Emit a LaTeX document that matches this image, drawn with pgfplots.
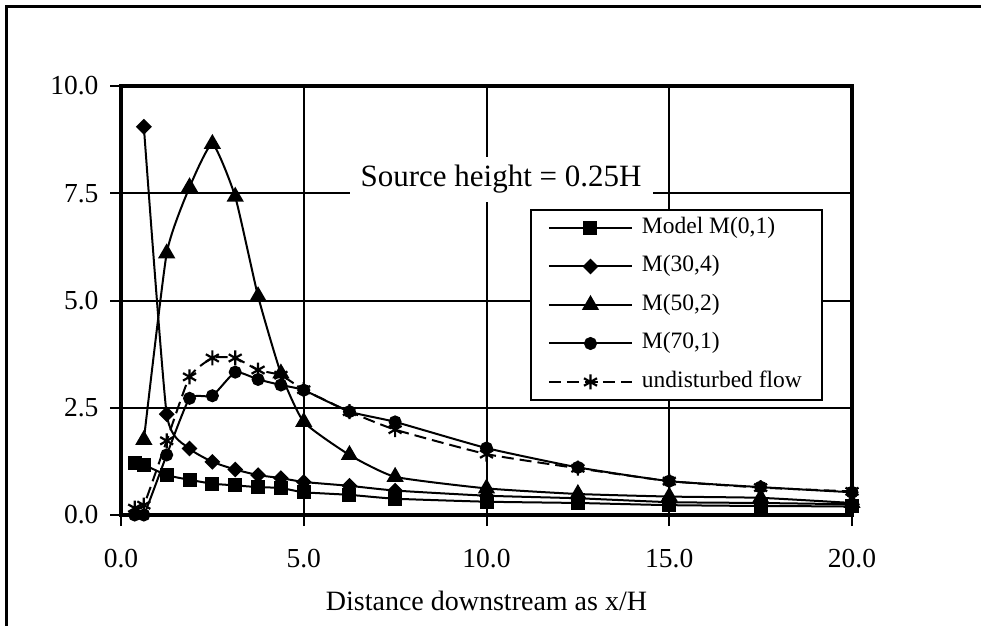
\documentclass[border=0pt]{standalone}
\usepackage{fontspec}
\setmainfont{Liberation Serif}
\usepackage{pgfplots}
\pgfplotsset{compat=1.18}
\begin{document}
\begin{tikzpicture}[x=1pt,y=1pt]
\useasboundingbox (0,0) rectangle (981,625);
\draw[line width=2.7pt] (6.7,-5) -- (6.7,618.3) -- (990,618.3);
\begin{axis}[
  at={(121pt,110pt)}, anchor=south west,
  scale only axis, width=731pt, height=429pt,
  xmin=0, xmax=20, ymin=0, ymax=10,
  xtick={0,5,10,15,20}, xticklabels={0.0,5.0,10.0,15.0,20.0},
  ytick={0,2.5,5,7.5,10}, yticklabels={0.0,2.5,5.0,7.5,10.0},
  tick pos=left, tick align=outside, major tick length=11pt,
  major tick style={black, line width=2pt},
  grid=major, major grid style={black, line width=2pt},
  axis line style={line width=4.5pt},
  ticklabel style={font=\fontsize{27.5}{30}\selectfont},
  xticklabel style={yshift=-20pt},
  yticklabel style={xshift=-8pt},
  xlabel={Distance downstream as x/H},
  xlabel style={font=\fontsize{28}{30}\selectfont, at={(axis description cs:0.5,0)}, anchor=center, yshift=-86pt},
  clip=false,
  legend cell align=left,
  legend style={at={(axis description cs:0.5595,0.7133)}, anchor=north west, draw=black, line width=2pt, fill=white,
    inner xsep=17pt, inner ysep=3.5pt, row sep=9.5pt, font=\fontsize{23.5}{26}\selectfont,
    nodes={inner sep=3pt, text height=17pt, text depth=6pt},
    /tikz/every odd column/.append style={column sep=6pt}},
  legend image code/.code={\draw[mark repeat=2,mark phase=2,#1] plot coordinates {(0pt,0pt) (41.5pt,0pt) (83pt,0pt)};},
]
\addplot[black, line width=2pt, smooth, tension=0.3, mark=square*, mark size=6pt, mark options={solid}] coordinates {
(0.375,1.22)(0.625,1.17)(1.25,0.93)(1.875,0.82)(2.5,0.73)(3.125,0.69)(3.75,0.65)(4.375,0.63)(5,0.53)(6.25,0.47)(7.5,0.38)(10,0.31)(12.5,0.28)(15,0.23)(17.5,0.21)(20,0.20)};
\addlegendentry{Model M(0,1)}
\addplot[black, line width=2pt, smooth, tension=0.3, mark=square*, mark size=4.6pt, mark options={solid, rotate=45}] coordinates {
(0.625,9.05)(1.25,2.35)(1.875,1.55)(2.5,1.24)(3.125,1.06)(3.75,0.93)(4.375,0.86)(5,0.77)(6.25,0.68)(7.5,0.57)(10,0.45)(12.5,0.39)(15,0.30)(17.5,0.28)(20,0.25)};
\addlegendentry{M(30,4)}
\addplot[black, line width=2pt, smooth, tension=0.3, mark=triangle*, mark size=8pt, mark options={solid}] coordinates {
(0.625,1.75)(1.25,6.1)(1.875,7.64)(2.5,8.65)(3.125,7.42)(3.75,5.1)(4.375,3.3)(5,2.17)(6.25,1.40)(7.5,0.89)(10,0.62)(12.5,0.49)(15,0.43)(17.5,0.40)(20,0.28)};
\addlegendentry{M(50,2)}
\addplot[black, line width=2pt, smooth, tension=0.3, mark=*, mark size=5.5pt, mark options={solid}] coordinates {
(0.375,0.0)(0.625,0.0)(1.25,1.40)(1.875,2.72)(2.5,2.78)(3.125,3.33)(3.75,3.16)(4.375,3.03)(5,2.91)(6.25,2.41)(7.5,2.17)(10,1.56)(12.5,1.11)(15,0.79)(17.5,0.65)(20,0.53)};
\addlegendentry{M(70,1)}
\addplot[black, line width=2pt, smooth, tension=0.3, dash pattern=on 12pt off 6pt, mark=asterisk, mark size=7.5pt, mark options={solid, line width=2.2pt}] coordinates {
(0.375,0.16)(0.625,0.23)(1.25,1.73)(1.875,3.22)(2.5,3.66)(3.125,3.66)(3.75,3.38)(4.375,3.26)(5,2.92)(6.25,2.41)(7.5,1.99)(10,1.42)(12.5,1.09)(15,0.79)(17.5,0.64)(20,0.55)};
\addlegendentry{undisturbed flow}
\node[fill=white, inner sep=0pt, minimum width=303pt, minimum height=45pt, font=\fontsize{31}{34}\selectfont] at (axis cs:10.4,7.82) {Source height = 0.25H};
\end{axis}
\end{tikzpicture}
\end{document}
